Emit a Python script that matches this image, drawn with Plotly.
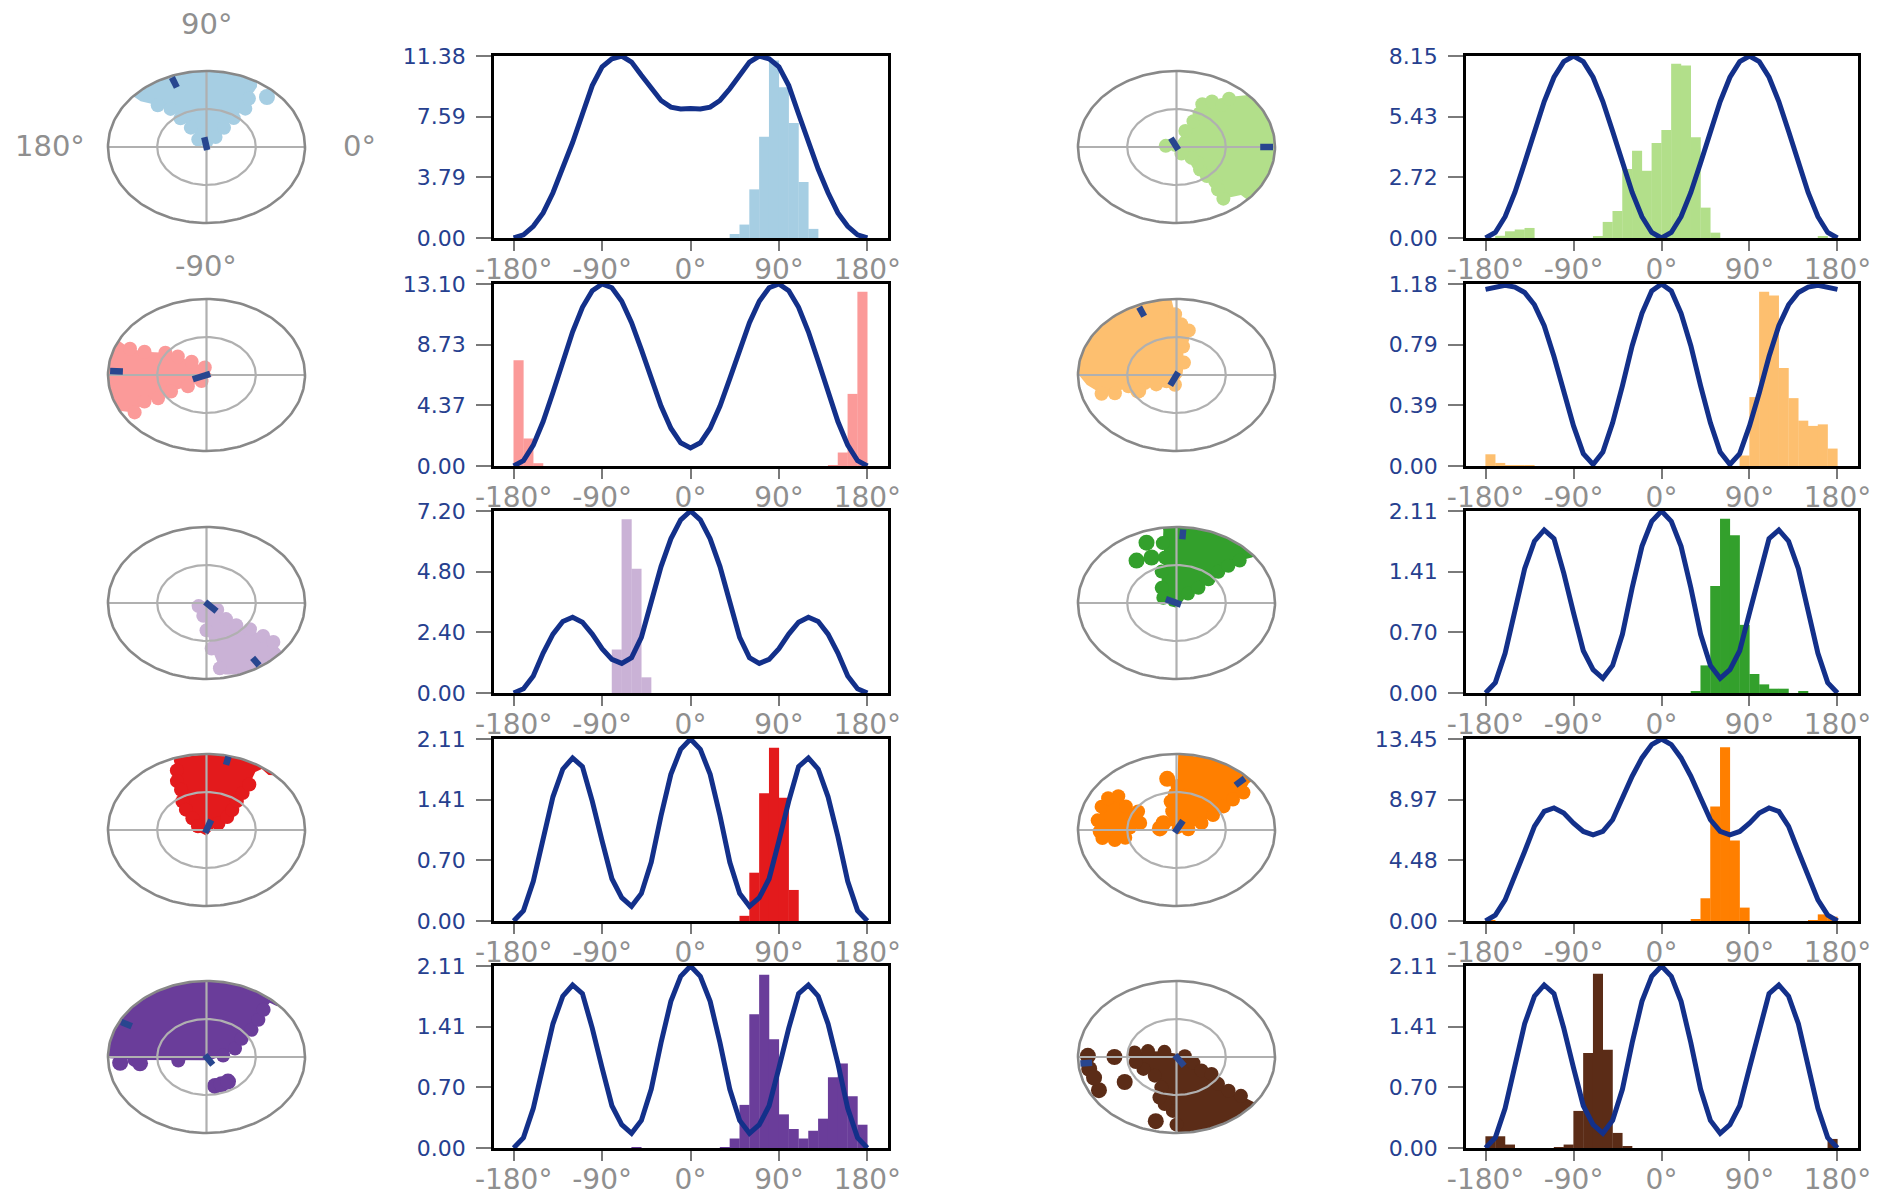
import numpy as np
import plotly.graph_objects as go

W, H = 1877, 1195

# ---------------- data ----------------
ANGLES = list(range(-180, 181, 10))
XTICKS = [-180, -90, 0, 90, 180]
XTICK_TEXT = ['-180°', '-90°', '0°', '90°', '180°']

CURVE_R1C2 = [0, 0.2, 0.73, 1.57, 2.83, 4.3, 5.97, 7.75, 9.53, 10.7, 11.2, 11.38, 11.0, 10.17, 9.33, 8.6, 8.18, 8.07, 8.1,
              8.07, 8.18, 8.6, 9.33, 10.17, 11.0, 11.38, 11.2, 10.7, 9.53, 7.75, 5.97, 4.3, 2.83, 1.57, 0.73, 0.2, 0]
CURVE_R2C2 = [0, 0.39, 1.5, 3.2, 5.29, 7.54, 9.66, 11.42, 12.61, 13.10, 12.83, 11.86, 10.31, 8.38, 6.29, 4.32, 2.72, 1.67, 1.30,
              1.67, 2.72, 4.32, 6.29, 8.38, 10.31, 11.86, 12.83, 13.10, 12.61, 11.42, 9.66, 7.54, 5.29, 3.2, 1.5, 0.39, 0]
CURVE_R3C2 = [0, 0.17, 0.67, 1.58, 2.33, 2.83, 3.0, 2.8, 2.33, 1.75, 1.33, 1.17, 1.4, 2.2, 3.6, 5.0, 6.1, 6.85, 7.2,
              6.85, 6.1, 5.0, 3.6, 2.2, 1.4, 1.17, 1.33, 1.75, 2.33, 2.8, 3.0, 2.83, 2.33, 1.58, 0.67, 0.17, 0]
CURVE_TRI = [0, 0.12, 0.46, 0.98, 1.44, 1.76, 1.89, 1.79, 1.39, 0.93, 0.49, 0.27, 0.17, 0.32, 0.68, 1.22, 1.70, 1.99, 2.11,
             1.99, 1.70, 1.22, 0.68, 0.32, 0.17, 0.27, 0.49, 0.93, 1.39, 1.79, 1.89, 1.76, 1.44, 0.98, 0.46, 0.12, 0]
CURVE_R1C4 = [0, 0.246, 0.953, 2.04, 3.37, 4.78, 6.11, 7.20, 7.90, 8.15, 7.90, 7.20, 6.11, 4.78, 3.37, 2.04, 0.953, 0.246, 0,
              0.246, 0.953, 2.04, 3.37, 4.78, 6.11, 7.20, 7.90, 8.15, 7.90, 7.20, 6.11, 4.78, 3.37, 2.04, 0.953, 0.246, 0]
CURVE_R2C4 = [1.145, 1.16, 1.172, 1.16, 1.125, 1.045, 0.91, 0.71, 0.475, 0.26, 0.08, 0.01, 0.09, 0.28, 0.52, 0.78, 0.99, 1.135, 1.18,
              1.135, 0.99, 0.78, 0.52, 0.28, 0.09, 0.01, 0.08, 0.26, 0.475, 0.71, 0.91, 1.045, 1.125, 1.16, 1.172, 1.16, 1.145]
CURVE_R4C4 = [0, 0.44, 1.56, 3.28, 5.14, 7.0, 8.1, 8.35, 7.98, 7.23, 6.62, 6.37, 6.62, 7.48, 9.09, 10.7, 12.05, 13.04, 13.45,
              13.04, 12.05, 10.7, 9.09, 7.48, 6.62, 6.37, 6.62, 7.23, 7.98, 8.35, 8.1, 7.0, 5.14, 3.28, 1.56, 0.44, 0]

YMAX = [11.38, 8.15, 13.10, 1.18, 7.20, 2.11, 2.11, 13.45, 2.11, 2.11]

H_R1C2_X = [45, 55, 65, 75, 85, 95, 105, 115, 125]
H_R1C2_Y = [0.25, 0.84, 3.04, 6.33, 11.1, 9.43, 7.19, 3.5, 0.57]
H_R2C2_X = [-175, -165, -155, 145, 155, 165, 175]
H_R2C2_Y = [7.62, 1.98, 0.2, 0.05, 0.97, 5.19, 12.55]
H_R3C2_X = [-75, -65, -55, -45]
H_R3C2_Y = [1.72, 6.87, 4.92, 0.62]
H_R4C2_X = [55, 65, 75, 85, 95, 105]
H_R4C2_Y = [0.06, 0.56, 1.48, 2.01, 1.43, 0.36]
H_R5C2_X = [-55, 35, 45, 55, 65, 75, 85, 95, 105, 115, 125, 135, 145, 155, 165, 175]
H_R5C2_Y = [0.01, 0.01, 0.11, 0.5, 1.55, 2.01, 1.26, 0.39, 0.22, 0.11, 0.2, 0.34, 0.82, 0.98, 0.6, 0.27]
H_R1C4_X = [-165, -155, -145, -135, -65, -55, -45, -35, -25, -15, -5, 5, 15, 25, 35, 45, 55, 165]
H_R1C4_Y = [0.1, 0.3, 0.38, 0.45, 0.08, 0.72, 1.21, 3.09, 3.91, 3.01, 4.25, 4.84, 7.8, 7.73, 4.51, 1.36, 0.24, 0.05]
H_R2C4_X = [-175, -165, -155, -145, -135, 85, 95, 105, 115, 125, 135, 145, 155, 165, 175]
H_R2C4_Y = [0.076, 0.02, 0.005, 0.005, 0.005, 0.068, 0.447, 1.13, 1.105, 0.636, 0.44, 0.294, 0.26, 0.27, 0.113]
H_R3C4_X = [35, 45, 55, 65, 75, 85, 95, 105, 115, 125, 145]
H_R3C4_Y = [0.02, 0.32, 1.24, 2.02, 1.83, 0.79, 0.22, 0.1, 0.05, 0.05, 0.02]
H_R4C4_X = [-175, 35, 45, 55, 65, 75, 85, 155, 165, 175]
H_R4C4_Y = [0.03, 0.15, 1.68, 8.47, 12.84, 5.95, 0.99, 0.07, 0.49, 0.32]
H_R5C4_X = [-175, -165, -155, -105, -95, -85, -75, -65, -55, -45, -35, 175]
H_R5C4_Y = [0.136, 0.136, 0.04, 0.01, 0.04, 0.43, 1.1, 2.02, 1.14, 0.175, 0.02, 0.105]

COLORS = ['#a6cee3', '#b2df8a', '#fb9a99', '#fdbf6f', '#cab2d6',
          '#33a02c', '#e31a1c', '#ff7f00', '#6a3d9a', '#5b2c17']

# polar blobs: (theta deg, r) boundary lists
P1_T = [-90, 15, 55, 55, 54, 52, 56, 57, 59, 75, 90, 105, 120, 138, 138, 132, 126, 125, 122, 130]
P1_R = [.07, .06, .16, .31, .47, .64, .77, .94, 1, 1, 1, 1, 1, 1, .9, .74, .62, .46, .3, .13]
P1_DOT_T = [47]
P1_DOT_R = [.9]
P1_MARKS = [(111, .84, .98), (100, -.04, .13)]

P2_T = [-8, 100, 131, 140, 145, 154, 156, 154, 153, 165, 180, 195, 208, 211, 214, 209, 212, 211, 218, 238]
P2_R = [.07, .1, .23, .38, .51, .70, .85, .94, 1, 1, 1, 1, 1, .94, .88, .72, .58, .42, .24, .095]
P2_DOT_T = []
P2_DOT_R = []
P2_MARKS = [(177, .85, .98), (202, -.04, .15)]

P3_T = [153, 0, -39, -47, -44, -38, -37, -37, -40, -55, -70, -79, -81, -85, -90, -101, -153]
P3_R = [.065, .05, .14, .29, .42, .56, .72, .85, 1, 1, 1, .96, .87, .6, .36, .17, .09]
P3_DOT_T = []
P3_DOT_R = []
P3_MARKS = [(-57, .86, .98), (-47, -.02, .15)]

P4_T = [-90, 10, 36, 39, 45, 51, 53, 54, 57, 55, 49, 46, 60, 75, 90, 109, 110, 111, 115, 116, 123, 128, 133, 150, 212]
P4_R = [.075, .06, .15, .27, .37, .49, .61, .74, .91, .98, .96, 1, 1, 1, 1, 1, .97, .84, .71, .59, .45, .34, .21, .1, .07]
P4_DOT_T = []
P4_DOT_R = []
P4_MARKS = [(77, .88, .99), (70, -.04, .14)]

P5_T = [-52, 7, 21, 34, 38, 43, 47, 48, 43, 43, 60, 75, 90, 105, 120, 135, 150, 165, 180, 181, 183, 189, 221]
P5_R = [.056, .17, .31, .43, .58, .72, .85, .96, .98, 1, 1, 1, 1, 1, 1, 1, 1, 1, 1, .98, .73, .29, .07]
P5_DOT_T = [185, 187, -77, -67, -56]
P5_DOT_R = [.88, .68, .39, .39, .39]
P5_MARKS = [(152, .86, .98), (-58, -.03, .12)]

P6_T = [172, 83, 67, 63, 62, 65, 59, 50, 50, 48, 44, 44, 30, 15, 0, -15, -30, -44, -44, -55, -53, -49, -51, -51, -44, -43, -60, -127]
P6_R = [.11, .08, .23, .38, .5, .62, .7, .72, .83, .9, .98, 1, 1, 1, 1, 1, 1, 1, .91, .83, .7, .6, .49, .38, .3, .21, .1, .07]
P6_DOT_T = []
P6_DOT_R = []
P6_MARKS = [(0, .85, .98), (116, -.04, .13)]

P7_T = [-97, -10, 65, 80, 83, 78, 86, 91, 93, 93, 105, 120, 135, 150, 165, 180, 181, 188, 198, 201, 197, 198, 211, 219]
P7_R = [.13, .06, .18, .38, .48, .6, .67, .8, .96, 1, 1, 1, 1, 1, 1, 1, .98, .92, .8, .67, .51, .34, .24, .13]
P7_DOT_T = [208]
P7_DOT_R = [.44]
P7_MARKS = [(113, .84, .97), (245, -.04, .15)]

P8_T = [-90, 15, 47, 42, 44, 44, 43, 41, 38, 38, 50, 65, 80, 98, 98, 100, 101, 110, 127, 153, 209]
P8_R = [.064, .06, .17, .3, .45, .59, .72, .85, .97, 1, 1, 1, 1, 1, .96, .8, .61, .44, .25, .15, .08]
P8_DOT_T = [111, 126, 113]
P8_DOT_R = [.85, .69, .65]
P8_MARKS = [(86, .84, .97), (155, -.05, .12)]

P9_T = [-72, 5, 20, 28, 33, 35, 36, 40, 40, 55, 70, 89, 89, 92, 99, 100, 97, 158]
P9_R = [.06, .12, .27, .42, .57, .7, .84, .96, 1, 1, 1, 1, .58, .47, .38, .25, .13, .055]
P9B_T = [181.5, 171, 158, 149, 143, 149, 148, 166, 176, 191, 192, 188]
P9B_R = [.78, .81, .82, .81, .74, .6, .46, .38, .475, .53, .64, .76]
P9_DOT_T = [98, 173, 146]
P9_DOT_R = [.68, .17, .16]
P9_MARKS = [(44.5, .84, .97), (62, -.04, .14)]

P10_T = [172, 165, 151, 90, 7, -25, -35, -32, -40, -40, -38, -37, -37, -50, -65, -80, -89, -90, -93, -101, -108, -111, -132, -155, -171]
P10_R = [.43, .3, .14, .044, .085, .19, .31, .42, .55, .69, .83, .96, 1, 1, 1, 1, 1, .89, .71, .63, .56, .43, .33, .37, .42]
P10_DOT_T = [179, 190, 209, 180, 212, 256, 198]
P10_DOT_R = [.9, .9, .9, .63, .62, .87, .88]
P10_MARKS = [(185, .86, .98), (-56, -.03, .14)]

# ---------------- layout geometry ----------------
HIST_X = {2: (494, 888), 4: (1466, 1858)}
ROW_TOP = [56, 284, 511, 739, 966]
ROW_H = 182
POLAR_CX = {1: 206.5, 3: 1176.5}
POLAR_CY = [147, 375, 603, 830, 1057]
POLAR_RX, POLAR_RY, PAD = 98.5, 76, 1.04

LINE_COLOR = '#13308a'
MARK_COLOR = '#28468f'
YTICK_COLOR = '#26408f'
GREY_TXT = '#8f8f8f'
FONT = 'DejaVu Sans'

fig = go.Figure()
layout = {}
counter = [0]


def new_axes():
    counter[0] += 1
    n = counter[0]
    s = '' if n == 1 else str(n)
    return 'x' + s, 'y' + s, 'xaxis' + s, 'yaxis' + s


def xd(a, b):
    return [a / W, b / W]


def yd(top, bottom):
    return [1 - bottom / H, 1 - top / H]


def add_hist(row, col, curve, ymax, hx, hy, color):
    xa, ya, xk, yk = new_axes()
    x0, x1 = HIST_X[col]
    top = ROW_TOP[row]
    fig.add_trace(go.Bar(x=hx, y=hy, width=10.3, marker=dict(color=color, line=dict(width=0)),
                         xaxis=xa, yaxis=ya, showlegend=False))
    fig.add_trace(go.Scatter(x=ANGLES, y=curve, mode='lines', line=dict(color=LINE_COLOR, width=5),
                             xaxis=xa, yaxis=ya, showlegend=False))
    yt = [0, ymax / 3, 2 * ymax / 3, ymax]
    layout[xk] = dict(domain=xd(x0, x1), anchor=ya, range=[-200, 201], tickvals=XTICKS, ticktext=XTICK_TEXT,
                      ticks='outside', ticklen=10, tickwidth=2, tickcolor='#7a7a7a',
                      tickfont=dict(family=FONT, size=28, color=GREY_TXT), ticklabelstandoff=-5,
                      showline=True, mirror=True, linecolor='black', linewidth=2.5, automargin=False,
                      showgrid=False, zeroline=False, fixedrange=True)
    layout[yk] = dict(domain=yd(top, top + ROW_H), anchor=xa, range=[0, ymax], tickvals=yt,
                      ticktext=['%.2f' % v for v in yt],
                      ticks='outside', ticklen=15, tickwidth=2, tickcolor='#7a7a7a',
                      tickfont=dict(family=FONT, size=22, color=YTICK_COLOR), ticklabelstandoff=6,
                      showline=True, mirror=True, linecolor='black', linewidth=2.5, automargin=False,
                      showgrid=False, zeroline=False, fixedrange=True)


def pol(t, r):
    t = np.radians(np.asarray(t, dtype=float))
    r = np.asarray(r, dtype=float)
    return r * np.cos(t), r * np.sin(t)


def add_polar(row, col, polys, dot_t, dot_r, marks, color):
    xa, ya, xk, yk = new_axes()
    cx, cy = POLAR_CX[col], POLAR_CY[row]
    kw = dict(xaxis=xa, yaxis=ya, showlegend=False, hoverinfo='skip')
    for (pt, pr) in polys:
        x, y = pol(pt, pr)
        fig.add_trace(go.Scatter(x=list(x) + [x[0]], y=list(y) + [y[0]], mode='lines', fill='toself',
                                 fillcolor=color, line=dict(width=0, color=color), **kw))
        bt = [t for t, r in zip(pt, pr) if 0.08 < r < 0.9]
        br = [r for t, r in zip(pt, pr) if 0.08 < r < 0.9]
        bx, by = pol(bt, br)
        fig.add_trace(go.Scatter(x=bx, y=by, mode='markers', marker=dict(size=14, color=color), **kw))
    if dot_t:
        x, y = pol(dot_t, dot_r)
        fig.add_trace(go.Scatter(x=x, y=y, mode='markers', marker=dict(size=16, color=color), **kw))
    th = np.linspace(0, 2 * np.pi, 181)
    grid = '#b0b0b0'
    fig.add_trace(go.Scatter(x=0.5 * np.cos(th), y=0.5 * np.sin(th), mode='lines',
                             line=dict(color=grid, width=2.2), **kw))
    fig.add_trace(go.Scatter(x=[-1, 1, None, 0, 0], y=[0, 0, None, -1, 1], mode='lines',
                             line=dict(color=grid, width=2.2), **kw))
    fig.add_trace(go.Scatter(x=np.cos(th), y=np.sin(th), mode='lines',
                             line=dict(color='#888888', width=2.6), **kw))
    for (t, r0, r1) in marks:
        x, y = pol([t, t], [r0, r1])
        fig.add_trace(go.Scatter(x=x, y=y, mode='lines', line=dict(color=MARK_COLOR, width=6.5), **kw))
    layout[xk] = dict(domain=xd(cx - POLAR_RX * PAD, cx + POLAR_RX * PAD), anchor=ya,
                      range=[-PAD, PAD], visible=False, fixedrange=True, automargin=False)
    layout[yk] = dict(domain=yd(cy - POLAR_RY * PAD, cy + POLAR_RY * PAD), anchor=xa,
                      range=[-PAD, PAD], visible=False, fixedrange=True, automargin=False)


# left half
add_polar(0, 1, [(P1_T, P1_R)], P1_DOT_T, P1_DOT_R, P1_MARKS, COLORS[0])
add_hist(0, 2, CURVE_R1C2, YMAX[0], H_R1C2_X, H_R1C2_Y, COLORS[0])
add_polar(1, 1, [(P2_T, P2_R)], P2_DOT_T, P2_DOT_R, P2_MARKS, COLORS[2])
add_hist(1, 2, CURVE_R2C2, YMAX[2], H_R2C2_X, H_R2C2_Y, COLORS[2])
add_polar(2, 1, [(P3_T, P3_R)], P3_DOT_T, P3_DOT_R, P3_MARKS, COLORS[4])
add_hist(2, 2, CURVE_R3C2, YMAX[4], H_R3C2_X, H_R3C2_Y, COLORS[4])
add_polar(3, 1, [(P4_T, P4_R)], P4_DOT_T, P4_DOT_R, P4_MARKS, COLORS[6])
add_hist(3, 2, CURVE_TRI, YMAX[6], H_R4C2_X, H_R4C2_Y, COLORS[6])
add_polar(4, 1, [(P5_T, P5_R)], P5_DOT_T, P5_DOT_R, P5_MARKS, COLORS[8])
add_hist(4, 2, CURVE_TRI, YMAX[8], H_R5C2_X, H_R5C2_Y, COLORS[8])
# right half
add_polar(0, 3, [(P6_T, P6_R)], P6_DOT_T, P6_DOT_R, P6_MARKS, COLORS[1])
add_hist(0, 4, CURVE_R1C4, YMAX[1], H_R1C4_X, H_R1C4_Y, COLORS[1])
add_polar(1, 3, [(P7_T, P7_R)], P7_DOT_T, P7_DOT_R, P7_MARKS, COLORS[3])
add_hist(1, 4, CURVE_R2C4, YMAX[3], H_R2C4_X, H_R2C4_Y, COLORS[3])
add_polar(2, 3, [(P8_T, P8_R)], P8_DOT_T, P8_DOT_R, P8_MARKS, COLORS[5])
add_hist(2, 4, CURVE_TRI, YMAX[5], H_R3C4_X, H_R3C4_Y, COLORS[5])
add_polar(3, 3, [(P9_T, P9_R), (P9B_T, P9B_R)], P9_DOT_T, P9_DOT_R, P9_MARKS, COLORS[7])
add_hist(3, 4, CURVE_R4C4, YMAX[7], H_R4C4_X, H_R4C4_Y, COLORS[7])
add_polar(4, 3, [(P10_T, P10_R)], P10_DOT_T, P10_DOT_R, P10_MARKS, COLORS[9])
add_hist(4, 4, CURVE_TRI, YMAX[9], H_R5C4_X, H_R5C4_Y, COLORS[9])

POLAR_LABELS = ['90°', '180°', '0°', '-90°']
POLAR_LABEL_POS = [(206, 24), (50, 146), (359, 146), (206, 266)]
annotations = []
for txt, (px, py) in zip(POLAR_LABELS, POLAR_LABEL_POS):
    annotations.append(dict(text=txt, x=px / W, y=1 - py / H, xref='paper', yref='paper',
                            showarrow=False, xanchor='center', yanchor='middle',
                            font=dict(family=FONT, size=29, color=GREY_TXT)))

fig.update_layout(width=W, height=H, margin=dict(l=0, r=0, t=0, b=0, autoexpand=False),
                  paper_bgcolor='white', plot_bgcolor='white', showlegend=False,
                  annotations=annotations, **layout)

fig.write_html("out.html", config={'displayModeBar': False},
               post_script="document.body.style.margin='0';document.body.style.overflow='hidden';")
